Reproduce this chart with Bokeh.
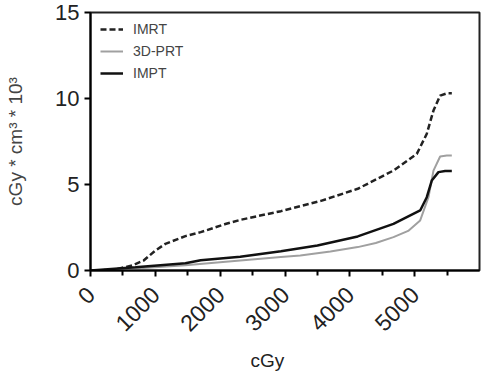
import math
from bokeh.plotting import figure
from bokeh.models import Range1d, FixedTicker, Legend, LegendItem, Title
from bokeh.embed import file_html
from bokeh.resources import INLINE

# Data (cGy vs cGy*cm^3*10^3)
imrt_x = [0, 200, 400, 642, 820, 1000, 1155, 1464, 1700, 2080, 2318, 2937, 3555, 4122, 4673, 5033, 5187, 5290, 5393, 5496, 5573]
imrt_y = [0, 0.02, 0.08, 0.29, 0.58, 1.16, 1.55, 2.0, 2.23, 2.7, 2.95, 3.45, 4.05, 4.75, 5.81, 6.78, 7.95, 9.3, 10.17, 10.3, 10.3]

prt_x = [0, 700, 1464, 2310, 2937, 3236, 3700, 4122, 4400, 4673, 4900, 5085, 5213, 5290, 5393, 5496, 5573]
prt_y = [0, 0.12, 0.3, 0.58, 0.78, 0.87, 1.1, 1.36, 1.6, 1.94, 2.3, 2.91, 4.26, 5.81, 6.63, 6.69, 6.69]

impt_x = [0, 693, 1464, 1700, 2310, 2937, 3500, 4122, 4673, 5085, 5187, 5264, 5367, 5470, 5573]
impt_y = [0, 0.19, 0.42, 0.6, 0.8, 1.12, 1.45, 1.98, 2.71, 3.49, 4.26, 5.23, 5.72, 5.78, 5.78]

x_ticks = [0, 1000, 2000, 3000, 4000, 5000]
x_minor = [500, 1500, 2500, 3500, 4500, 5500]
y_ticks = [0, 5, 10, 15]

FONT = "Liberation Sans"

p = figure(width=481, height=376, output_backend="svg", toolbar_location=None,
           x_range=Range1d(0, 6000), y_range=Range1d(0, 15),
           min_border_left=90, min_border_right=2, min_border_top=12, min_border_bottom=106)

p.grid.visible = False
p.background_fill_color = "white"
p.border_fill_color = "white"
p.outline_line_color = "#222222"
p.outline_line_width = 2

r1 = p.line(imrt_x, imrt_y, line_color="#222222", line_width=2.5, line_dash="6 3")
r2 = p.line(prt_x, prt_y, line_color="#a0a0a0", line_width=2)
r3 = p.line(impt_x, impt_y, line_color="#111111", line_width=2.5)

legend = Legend(items=[LegendItem(label="IMRT", renderers=[r1]),
                       LegendItem(label="3D-PRT", renderers=[r2]),
                       LegendItem(label="IMPT", renderers=[r3])],
                location=(10, 189), border_line_color=None, background_fill_alpha=0,
                label_text_font=FONT, label_text_font_size="14px",
                glyph_width=23, glyph_height=16, label_height=16, spacing=6,
                padding=0, margin=0, label_standoff=10)
p.add_layout(legend)

xa = p.xaxis[0]
xa.ticker = FixedTicker(ticks=x_ticks, minor_ticks=x_minor)
xa.major_label_orientation = math.pi / 4
xa.major_label_text_font = FONT
xa.major_label_text_font_size = "23px"
xa.major_label_text_color = "#222222"
xa.major_label_standoff = 14
xa.axis_line_width = 2
xa.major_tick_line_width = 2
xa.minor_tick_line_width = 2
xa.major_tick_out = 6
xa.major_tick_in = 0
xa.minor_tick_out = 5
xa.minor_tick_in = 0

x_title = Title(text="cGy", align="left", offset=160, text_font=FONT,
                text_font_style="normal", text_font_size="19px",
                text_color="#222222", standoff=12)
p.add_layout(x_title, "below")

ya = p.yaxis[0]
ya.ticker = FixedTicker(ticks=y_ticks, minor_ticks=[])
ya.major_label_text_font = FONT
ya.major_label_text_font_size = "22px"
ya.major_label_text_color = "#222222"
ya.axis_label = "cGy * cm³ * 10³"
ya.axis_label_text_font = FONT
ya.axis_label_text_font_style = "normal"
ya.axis_label_text_font_size = "19px"
ya.axis_label_standoff = 26
ya.axis_line_width = 2
ya.major_tick_line_width = 2
ya.major_tick_out = 6
ya.major_tick_in = 0
ya.major_label_standoff = 5

open("out.html", "w").write(file_html(p, INLINE))
